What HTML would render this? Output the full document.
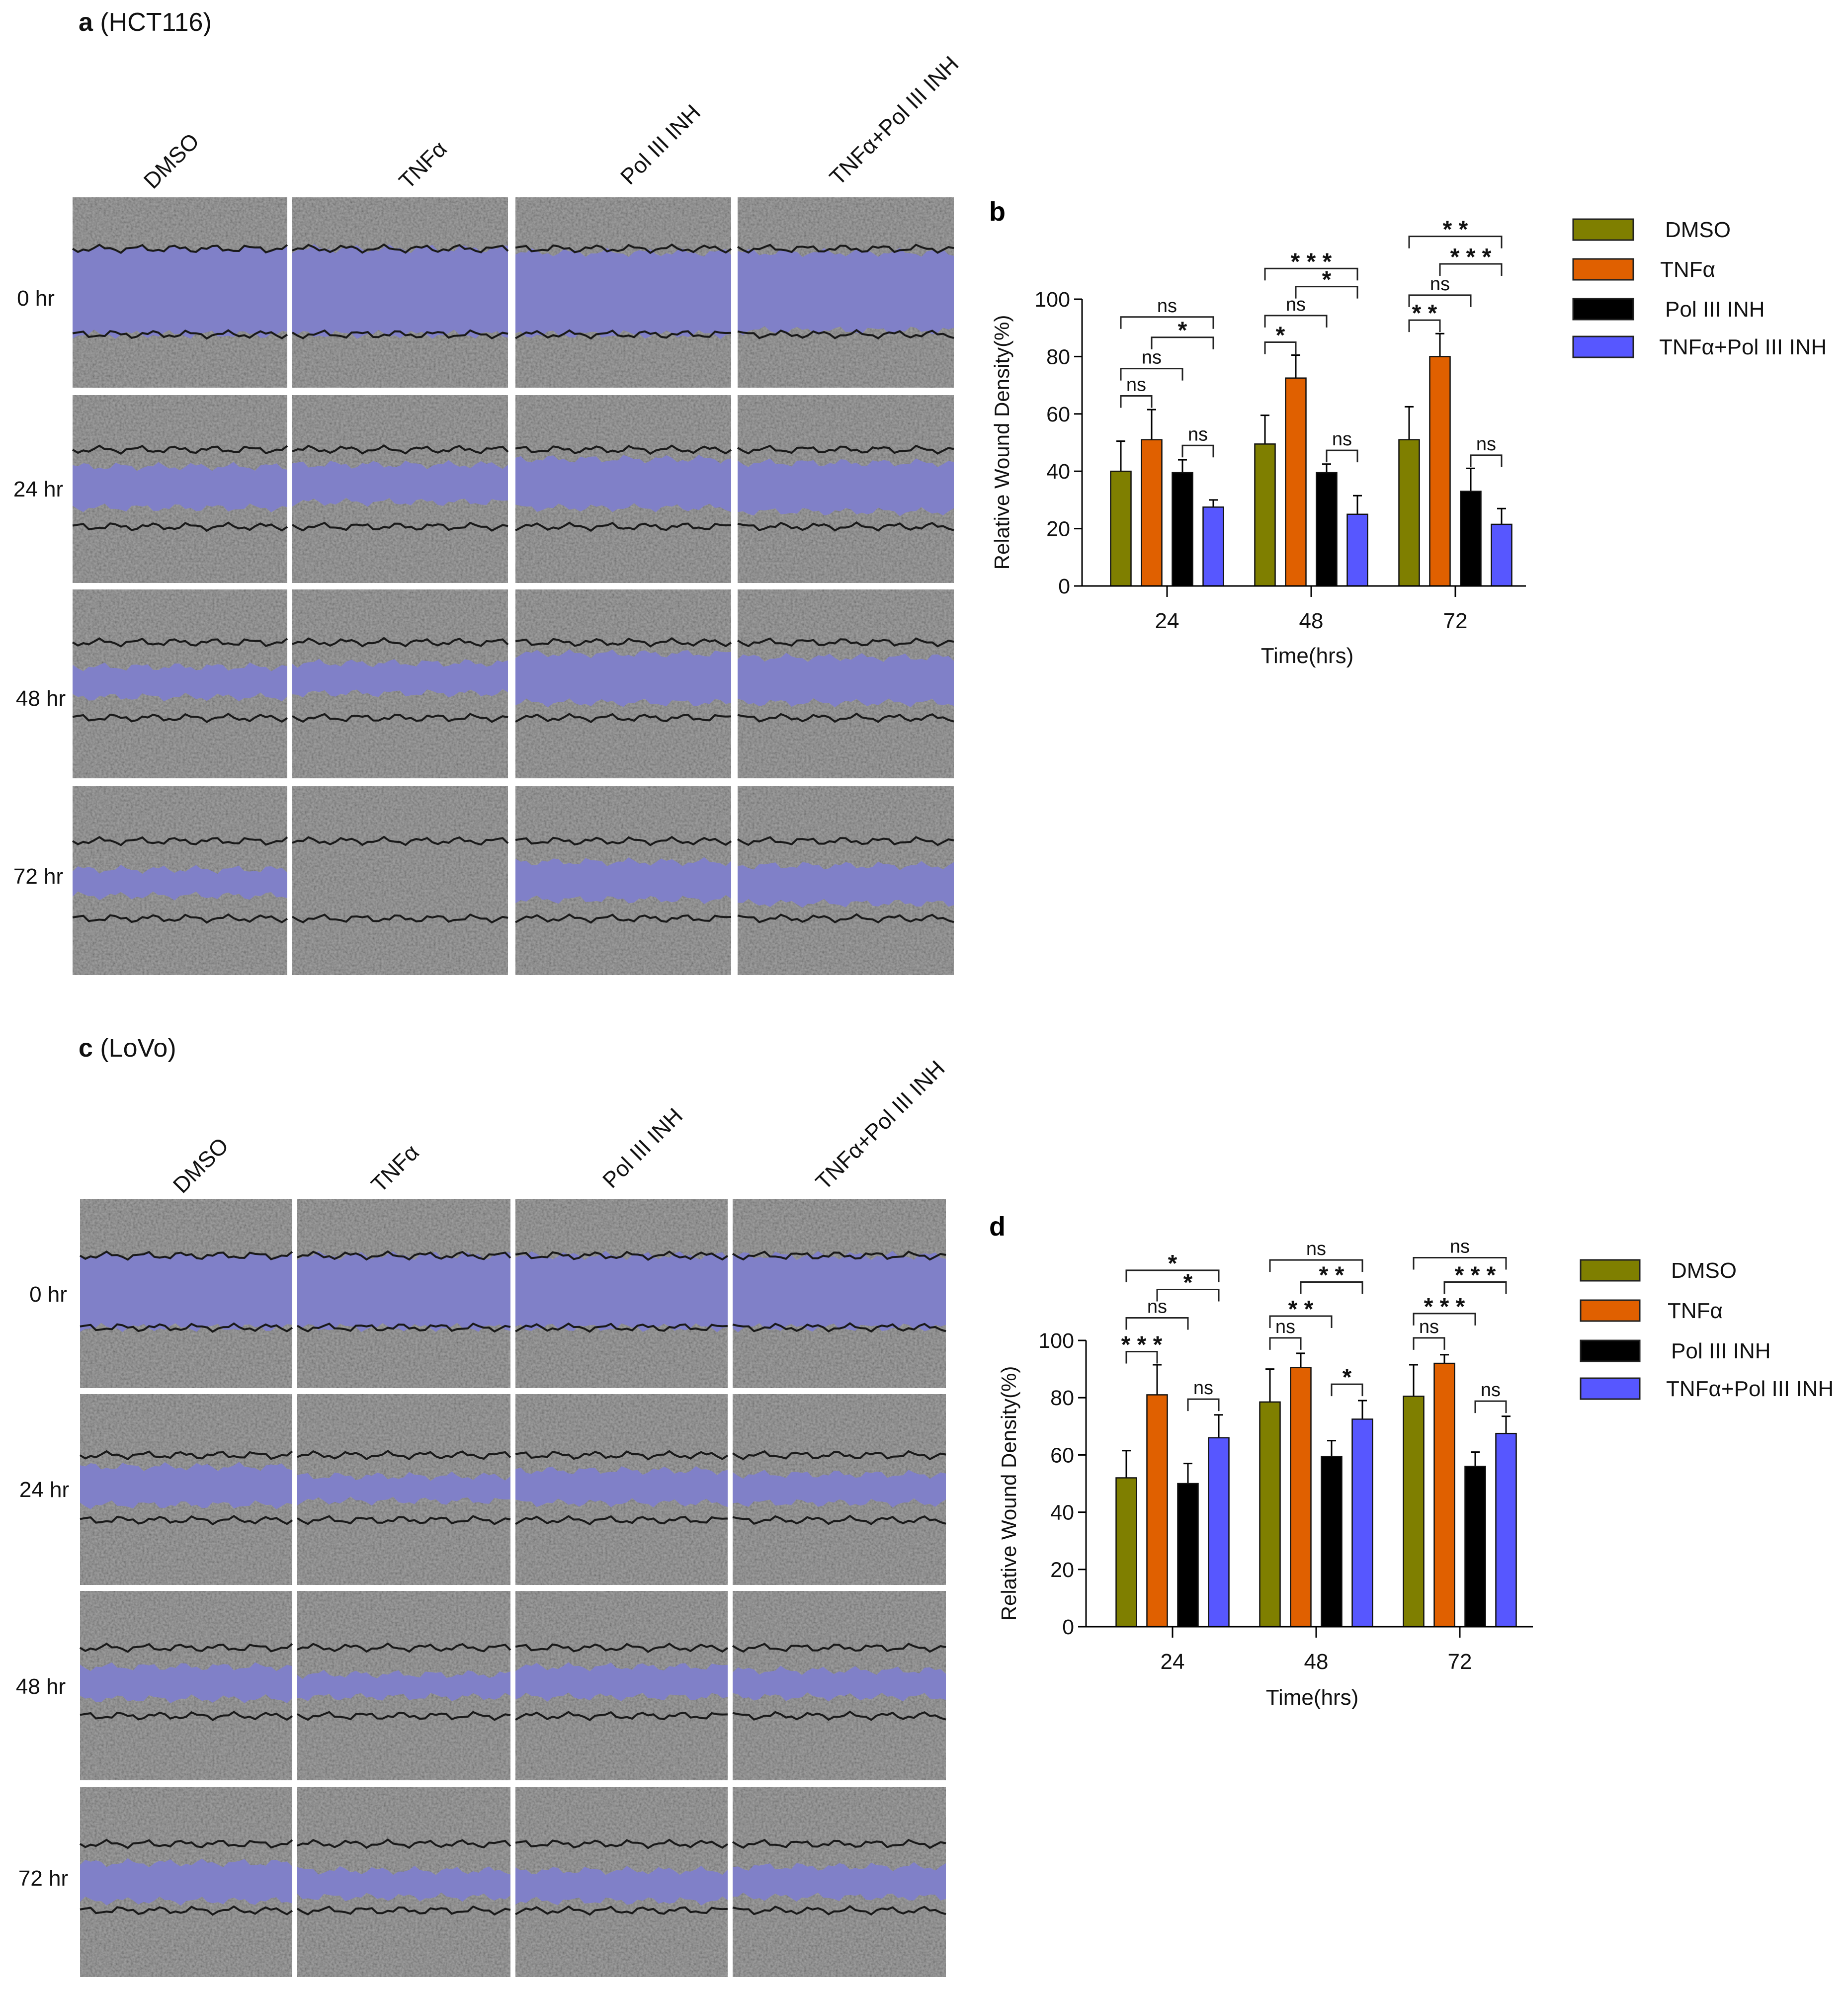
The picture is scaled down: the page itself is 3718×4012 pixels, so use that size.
<!DOCTYPE html>
<html><head><meta charset="utf-8">
<style>
html,body{margin:0;padding:0;background:#fff;}
body{width:3718px;height:4012px;position:relative;overflow:hidden;font-family:"Liberation Sans",sans-serif;}
svg{position:absolute;left:0;top:0;}
</style></head>
<body>
<svg id="fig" width="3718" height="4012" viewBox="0 0 3718 4012" xmlns="http://www.w3.org/2000/svg">
<defs>
<filter id="noise" x="0" y="0" width="100%" height="100%">
<feTurbulence type="fractalNoise" baseFrequency="0.22" numOctaves="2" seed="3" result="t"/>
<feColorMatrix in="t" type="matrix" values="1.1 0 0 0 -0.05  1.1 0 0 0 -0.05  1.1 0 0 0 -0.05  0 0 0 0 1"/>
</filter>
</defs>
<g id="panels"></g>
<g id="chartB"></g>
<g id="chartD"></g>
</svg>
<script>
// ---- chart data ----
const categories = ["24", "48", "72"];
const seriesNames = ["DMSO", "TNFα", "Pol III INH", "TNFα+Pol III INH"];
const seriesColors = ["#7f7f00", "#e06000", "#000000", "#5757ff"];
const yTicks = [0, 20, 40, 60, 80, 100];
// panel b (HCT116)
const bDMSO = [40, 49.5, 51];
const bTNF = [51, 72.5, 80];
const bPol = [39.5, 39.5, 33];
const bCombo = [27.5, 25, 21.5];
const bErrDMSO = [10.5, 10, 11.5];
const bErrTNF = [10.5, 8, 8];
const bErrPol = [4.5, 3, 8];
const bErrCombo = [2.5, 6.5, 5.5];
// brackets: [group, fromSeries, toSeries, level, label]
const bBrackets = [
  [0,0,3,93.8,"ns"],[0,1,3,86.7,"*"],[0,0,2,75.8,"ns"],[0,0,1,66.3,"ns"],[0,2,3,49,"ns"],
  [1,0,3,110.7,"* * *"],[1,1,3,104.4,"*"],[1,0,2,94.3,"ns"],[1,0,1,85,"*"],[1,2,3,47.3,"ns"],
  [2,0,3,121.9,"* *"],[2,1,3,112.3,"* * *"],[2,0,2,101.4,"ns"],[2,0,1,92.7,"* *"],[2,2,3,45.6,"ns"]
];
// panel d (LoVo)
const dDMSO = [52, 78.5, 80.5];
const dTNF = [81, 90.5, 92];
const dPol = [50, 59.5, 56];
const dCombo = [66, 72.5, 67.5];
const dErrDMSO = [9.5, 11.5, 11];
const dErrTNF = [10.5, 5, 3];
const dErrPol = [7, 5.5, 5];
const dErrCombo = [8, 6.5, 6];
const dBrackets = [
  [0,0,3,124.5,"*"],[0,1,3,117.8,"*"],[0,0,2,107.9,"ns"],[0,0,1,96.1,"* * *"],[0,2,3,79.5,"ns"],
  [1,0,3,128.1,"ns"],[1,1,3,120.4,"* *"],[1,0,2,108.5,"* *"],[1,0,1,100.9,"ns"],[1,2,3,84.7,"*"],
  [2,0,3,128.9,"ns"],[2,1,3,120.4,"* * *"],[2,0,2,109.4,"* * *"],[2,0,1,100.9,"ns"],[2,2,3,78.8,"ns"]
];

const NS = "http://www.w3.org/2000/svg";
function mk(parent, tag, attrs, text){
  const e = document.createElementNS(NS, tag);
  for (const k in attrs) e.setAttribute(k, attrs[k]);
  if (text !== undefined) e.textContent = text;
  parent.appendChild(e);
  return e;
}

function drawChart(g, cfg, values, errs, brackets){
  const y = v => cfg.y0 - (v/100)*(cfg.y0 - cfg.y100);
  const gx = i => cfg.firstCenter + i*cfg.groupStep;
  const bx = (i,s) => gx(i) + (s-1.5)*cfg.barStep;
  const bw = cfg.barW;
  const pl = mk(g,'text',{x:cfg.letterX,y:cfg.letterY,'font-size':54,'font-weight':'bold',fill:'#000'},cfg.letter);
  
  
  values.forEach((arr,s)=>{
    arr.forEach((v,i)=>{
      const cx = bx(i,s);
      const e = errs[s][i];
      const el = mk(g,'line',{x1:cx,x2:cx,y1:y(v),y2:y(v+e),stroke:'#000','stroke-width':3});
      
      
      const cap = mk(g,'line',{x1:cx-9,x2:cx+9,y1:y(v+e),y2:y(v+e),stroke:'#000','stroke-width':3});
      
      
      const r = mk(g,'rect',{x:cx-bw/2,y:y(v),width:bw,height:y(0)-y(v),fill:seriesColors[s],stroke:'#111','stroke-width':2.5});
      
      
    });
  });
  const ya = mk(g,'line',{x1:cfg.xStart,x2:cfg.xStart,y1:y(0),y2:y(100),stroke:'#000','stroke-width':3});
  
  
  const xa = mk(g,'line',{x1:cfg.xStart,x2:cfg.xEnd,y1:y(0),y2:y(0),stroke:'#000','stroke-width':3});
  
  
  yTicks.forEach(t=>{
    const tl = mk(g,'line',{x1:cfg.xStart-16,x2:cfg.xStart,y1:y(t),y2:y(t),stroke:'#000','stroke-width':3});
    
    
    const tt = mk(g,'text',{x:cfg.xStart-24,y:y(t)+15,'font-size':43,'text-anchor':'end',fill:'#111'},String(t));
    
    
  });
  categories.forEach((c,i)=>{
    const tl = mk(g,'line',{x1:gx(i),x2:gx(i),y1:y(0),y2:y(0)+22,stroke:'#000','stroke-width':3});
    
    
    const tt = mk(g,'text',{x:gx(i),y:cfg.tickLabelY,'font-size':44,'text-anchor':'middle',fill:'#111'},c);
    
    
  });
  const xt = mk(g,'text',{x:cfg.xTitleX,y:cfg.xTitleY,'font-size':44,'text-anchor':'middle',fill:'#111'},'Time(hrs)');
  
  
  const yt = mk(g,'text',{x:0,y:0,'font-size':42,'text-anchor':'middle',fill:'#111',transform:`translate(${cfg.yTitleX},${cfg.yTitleY}) rotate(-90)`},'Relative Wound Density(%)');
  
  
  brackets.forEach(b=>{
    const [gi,s1,s2,lv,lab] = b;
    const x1 = bx(gi,s1), x2 = bx(gi,s2), yy = y(lv);
    const p = mk(g,'path',{d:`M${x1},${yy+24} V${yy} H${x2} V${yy+24}`,fill:'none',stroke:'#222','stroke-width':3});
    
    
    const isStar = lab.indexOf('*')>=0;
    const t = mk(g,'text',{x:(x1+x2)/2,y:isStar?yy+2:yy-10,'font-size':isStar?48:38,'font-weight':isStar?'bold':'normal','text-anchor':'middle',fill:'#111'},lab);
    
    
  });
  seriesNames.forEach((n,s)=>{
    const ly = cfg.legendY[s];
    const r = mk(g,'rect',{x:cfg.legendX,y:ly,width:cfg.legendW,height:42,fill:seriesColors[s],stroke:'#222','stroke-width':3});
    
    
    const t = mk(g,'text',{x:cfg.legendTextX[s],y:ly+36,'font-size':44,fill:'#111'},n);
    
    
  });
}

drawChart(document.getElementById('chartB'), {
  letter:'b', letterX:1990, letterY:444,
  y0:1179, y100:602, xStart:2177, xEnd:3070,
  firstCenter:2348, groupStep:290, barStep:62, barW:41,
  tickLabelY:1264, xTitleX:2630, xTitleY:1334, yTitleX:2030, yTitleY:890,
  legendX:3165, legendW:121, legendY:[441,521,601,677], legendTextX:[3350,3340,3350,3338]
}, [bDMSO,bTNF,bPol,bCombo], [bErrDMSO,bErrTNF,bErrPol,bErrCombo], bBrackets);

drawChart(document.getElementById('chartD'), {
  letter:'d', letterX:1990, letterY:2486,
  y0:3273, y100:2697, xStart:2185, xEnd:3084,
  firstCenter:2359, groupStep:289, barStep:62, barW:41,
  tickLabelY:3358, xTitleX:2640, xTitleY:3430, yTitleX:2044, yTitleY:3005,
  legendX:3180, legendW:119, legendY:[2535,2616,2697,2773], legendTextX:[3362,3355,3362,3352]
}, [dDMSO,dTNF,dPol,dCombo], [dErrDMSO,dErrTNF,dErrPol,dErrCombo], dBrackets);

// ---- micrograph panels ----
const panels = document.getElementById('panels');
function wave(x0,w,base,amp,seed){
  let pts=[];
  for(let i=0;i<=40;i++){
    const x = x0 + w*i/40;
    const off = amp*(Math.sin(i*0.9+seed)*0.6 + Math.sin(i*2.3+seed*1.7)*0.4);
    pts.push([x, base+off]);
  }
  return pts;
}
function drawGrid(cols, rows, bands, lines, prefix){
  rows.forEach((r,ri)=>{
    cols.forEach((c,ci)=>{
      const w=c[1]-c[0], h=r[1]-r[0];
      const g = mk(panels,'g',{});
      
      
      mk(g,'rect',{x:c[0],y:r[0],width:w,height:h,fill:'#7c7c7c'});
      mk(g,'rect',{x:c[0],y:r[0],width:w,height:h,fill:'#888',filter:'url(#noise)',opacity:0.3});
      const bd = bands[ri][ci];
      if(bd){
        const top = wave(c[0],w,r[0]+bd[0]*h,h*0.025,ri*3+ci);
        const bot = wave(c[0],w,r[0]+bd[1]*h,h*0.025,ri*5+ci*2+1).reverse();
        const d = 'M'+top.concat(bot).map(p=>p[0].toFixed(1)+','+p[1].toFixed(1)).join(' L')+' Z';
        mk(g,'path',{d:d,fill:'#8080c8'});
      }
      const ln = lines[ri];
      ln.forEach((lv,k)=>{
        const pts = wave(c[0],w,r[0]+lv*h,h*0.022,ci*2+k*4);
        mk(g,'path',{d:'M'+pts.map(p=>p[0].toFixed(1)+','+p[1].toFixed(1)).join(' L'),fill:'none',stroke:'#1a1a1a','stroke-width':4});
      });
    });
  });
}
drawGrid(
  [[146,578],[588,1022],[1037,1471],[1484,1919]],
  [[397,780],[795,1173],[1186,1566],[1582,1962]],
  [[[0.27,0.72],[0.27,0.72],[0.29,0.72],[0.29,0.70]],
   [[0.38,0.60],[0.37,0.57],[0.34,0.60],[0.36,0.62]],
   [[0.41,0.57],[0.39,0.55],[0.34,0.60],[0.36,0.60]],
   [[0.44,0.58],null,[0.40,0.60],[0.42,0.62]]],
  [[0.27,0.72],[0.29,0.70],[0.28,0.68],[0.29,0.70]], 'hct116');
drawGrid(
  [[161,588],[598,1027],[1037,1464],[1474,1903]],
  [[2412,2793],[2805,3189],[3201,3582],[3595,3978]],
  [[[0.30,0.68],[0.30,0.68],[0.30,0.68],[0.30,0.68]],
   [[0.38,0.58],[0.43,0.56],[0.40,0.57],[0.42,0.57]],
   [[0.40,0.57],[0.44,0.56],[0.40,0.56],[0.42,0.56]],
   [[0.40,0.60],[0.44,0.58],[0.44,0.60],[0.42,0.58]]],
  [[0.30,0.68],[0.32,0.66],[0.30,0.66],[0.30,0.65]], 'lovo');

function label(x,y,txt,size,name,opts){
  const t = mk(panels,'text',Object.assign({x:x,y:y,'font-size':size,fill:'#111'},opts||{}),txt);
  
  
  return t;
}
const ta = mk(panels,'text',{x:158,y:62,'font-size':52,fill:'#111'});


mk(ta,'tspan',{'font-weight':'bold'},'a');
mk(ta,'tspan',{},' (HCT116)');
const tc = mk(panels,'text',{x:158,y:2126,'font-size':52,fill:'#111'});


mk(tc,'tspan',{'font-weight':'bold'},'c');
mk(tc,'tspan',{},' (LoVo)');
const headA = [[345,324,"DMSO"],[851,332,"TNFα"],[1329,291,"Pol III INH"],[1799,243,"TNFα+Pol III INH"]];
const headC = [[404,2345,"DMSO"],[795,2351,"TNFα"],[1293,2310,"Pol III INH"],[1771,2264,"TNFα+Pol III INH"]];
headA.concat(headC).forEach(h=>{
  label(0,15,h[2],45,'column-header',{'text-anchor':'middle',transform:`translate(${h[0]},${h[1]}) rotate(-45)`});
});
[[72,600,"0 hr"],[77,984,"24 hr"],[82,1405,"48 hr"],[77,1763,"72 hr"],
 [97,2604,"0 hr"],[89,2997,"24 hr"],[82,3393,"48 hr"],[87,3779,"72 hr"]].forEach(r=>{
  label(r[0],r[1]+15,r[2],44,'row-label',{'text-anchor':'middle'});
});
</script>
</body></html>
